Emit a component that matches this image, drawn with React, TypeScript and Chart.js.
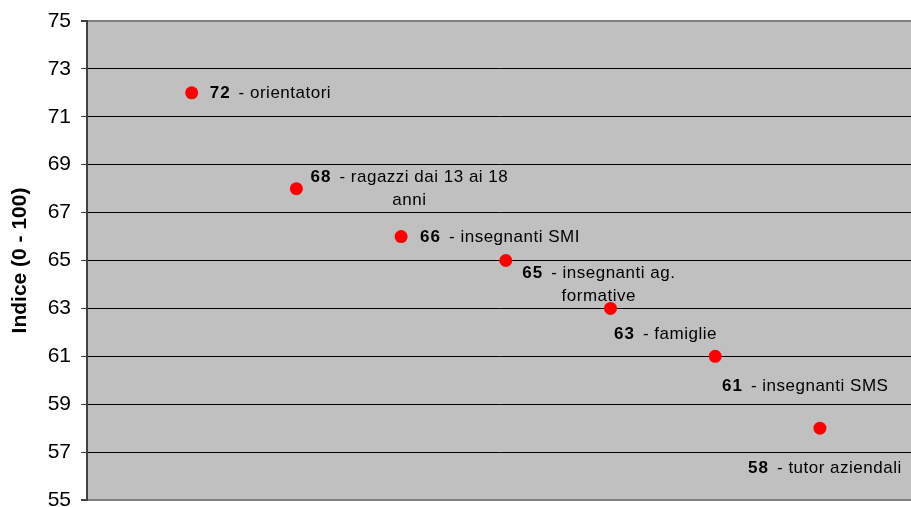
import React, { useEffect, useRef } from "react";
import { Chart, registerables } from "chart.js";

Chart.register(...registerables);

// ---- data ----
const categories: string[][] = [
  ["orientatori"],
  ["ragazzi dai 13 ai 18", "anni"],
  ["insegnanti SMI"],
  ["insegnanti ag.", "formative"],
  ["famiglie"],
  ["insegnanti SMS"],
  ["tutor aziendali"],
];
const values: number[] = [72, 68, 66, 65, 63, 61, 58];
const yTicks: number[] = [55, 57, 59, 61, 63, 65, 67, 69, 71, 73, 75];
const yTitle = "Indice (0 - 100)";

// ---- label layout (pixel offsets from the point; first line centre) ----
const labelLayout: { dx: number; dy: number; align: "left" | "center" }[] = [
  { dx: 18, dy: 0, align: "left" },
  { dx: 113, dy: -11, align: "center" },
  { dx: 19, dy: 1, align: "left" },
  { dx: 93, dy: 13, align: "center" },
  { dx: 55, dy: 26, align: "center" },
  { dx: 90, dy: 30, align: "center" },
  { dx: 5, dy: 40, align: "center" },
];

const FONT = "'Liberation Sans', Arial, sans-serif";

const bgPlugin = {
  id: "plotBg",
  beforeDraw(chart: any) {
    const { ctx, chartArea } = chart;
    ctx.save();
    ctx.fillStyle = "#C0C0C0";
    ctx.fillRect(chartArea.left, chartArea.top, chartArea.right - chartArea.left, chartArea.bottom - chartArea.top);
    ctx.restore();
  },
};

const labelPlugin = {
  id: "pointLabels",
  afterDatasetsDraw(chart: any) {
    const { ctx } = chart;
    const meta = chart.getDatasetMeta(0);
    ctx.save();
    ctx.fillStyle = "#000";
    ctx.textBaseline = "middle";
    ctx.textAlign = "left";
    const lineH = 23;
    const gap = 8;
    meta.data.forEach((pt: any, i: number) => {
      const lay = labelLayout[i];
      const lines = categories[i];
      const num = String(values[i]);
      lines.forEach((ln, li) => {
        const y = pt.y + lay.dy + li * lineH;
        let boldW = 0;
        const regText = li === 0 ? "- " + ln : ln;
        ctx.font = `bold 17px ${FONT}`;
        (ctx as any).letterSpacing = "1px";
        if (li === 0) boldW = ctx.measureText(num).width + gap;
        ctx.font = `17px ${FONT}`;
        (ctx as any).letterSpacing = "0.5px";
        const regW = ctx.measureText(regText).width;
        const total = boldW + regW;
        let x = lay.align === "left" ? pt.x + lay.dx : pt.x + lay.dx - total / 2;
        if (li === 0) {
          ctx.font = `bold 17px ${FONT}`;
          (ctx as any).letterSpacing = "1px";
          ctx.fillText(num, x, y);
          x += boldW;
        }
        ctx.font = `17px ${FONT}`;
        (ctx as any).letterSpacing = "0.5px";
        ctx.fillText(regText, x, y);
      });
    });
    ctx.restore();
  },
};

export default function App() {
  const ref = useRef<HTMLCanvasElement>(null);
  useEffect(() => {
    if (!ref.current) return;
    const chart = new Chart(ref.current, {
      type: "scatter",
      data: {
        datasets: [
          {
            data: values.map((v, i) => ({ x: i + 1, y: v })),
            backgroundColor: "#FF0000",
            borderColor: "#FF0000",
            borderWidth: 0,
            pointRadius: 6.5,
            pointHoverRadius: 6.5,
            showLine: false,
          },
        ],
      },
      options: {
        animation: false,
        responsive: true,
        maintainAspectRatio: false,
        layout: { autoPadding: false, padding: { top: 21, bottom: 7, left: 0, right: 0 } },
        plugins: { legend: { display: false }, tooltip: { enabled: false } },
        scales: {
          x: { type: "linear", display: false, min: 0, max: 7.87 },
          y: {
            min: 55,
            max: 75,
            afterFit(scale: any) {
              scale.width = 87;
              scale.paddingTop = 0;
              scale.paddingBottom = 0;
            },
            afterBuildTicks(scale: any) {
              scale.ticks = yTicks.map((v) => ({ value: v }));
            },
            ticks: {
              color: "#000",
              font: { family: FONT, size: 21 },
              padding: 10,
            },
            grid: {
              color: (c: any) => (c.tick && (c.tick.value === 55 || c.tick.value === 75) ? "#808080" : "#000000"),
              lineWidth: (c: any) => (c.tick && (c.tick.value === 55 || c.tick.value === 75) ? 2 : 1),
              tickColor: "#404040",
              tickLength: 6,
              drawTicks: true,
            },
            border: { color: "#404040", width: 2 },
            title: {
              display: true,
              text: yTitle,
              color: "#000",
              font: { family: FONT, size: 21, weight: "bold" },
              padding: { top: 8, bottom: 0 },
            },
          },
        },
      },
      plugins: [bgPlugin, labelPlugin],
    });
    return () => chart.destroy();
  }, []);
  return (
    <div style={{ position: "fixed", left: 0, top: 0, width: 911, height: 507, background: "#fff" }}>
      <canvas ref={ref} />
    </div>
  );
}
